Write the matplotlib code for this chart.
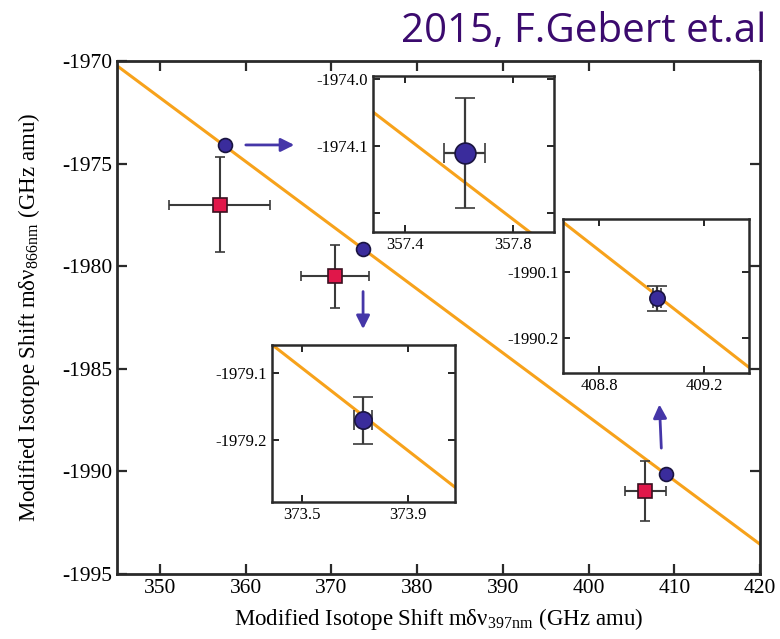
import numpy as np
import matplotlib
matplotlib.use("Agg")
import matplotlib.pyplot as plt

plt.rcParams['font.family'] = ['Liberation Serif', 'DejaVu Serif']
plt.rcParams['mathtext.fontset'] = 'stix'
plt.rcParams['axes.unicode_minus'] = False

# fit line (orange), given by its ends over the main x range
line_x = [345, 420]
line_y = [-1970.23, -1993.55]

# blue circles (this work)
circ_x = [357.62, 373.73, 409.02]
circ_y = [-1974.11, -1979.17, -1990.14]
circ_xerr = [0.076, 0.034, 0.015]
circ_yerr = [0.082, 0.035, 0.019]

# red squares
sq_x = [357.0, 370.43, 406.6]
sq_y = [-1977.0, -1980.5, -1990.95]
sq_xerr = [5.9, 4.0, 2.4]
sq_yerr = [2.3, 1.55, 1.45]

# inset ranges and ticks
inset_xlim = [(357.281, 357.951), (373.3875, 374.075), (408.664, 409.371)]
inset_ylim = [(-1974.229, -1973.995), (-1979.293, -1979.0575), (-1990.254, -1990.0206)]
inset_xticks = [[357.4, 357.8], [373.5, 373.9], [408.8, 409.2]]
inset_yticks = [[-1974.0, -1974.1, -1974.2], [-1979.1, -1979.2], [-1990.1, -1990.2]]
inset_yticklabels = [['-1974.0', '-1974.1', ''], ['-1979.1', '-1979.2'], ['-1990.1', '-1990.2']]
inset_rects = [[0.4778, 0.6365, 0.2328, 0.2446],
               [0.3483, 0.2139, 0.2350, 0.2462],
               [0.7222, 0.4158, 0.2381, 0.2410]]
inset_msize = [15, 12.5, 11]

orange = '#F7A21B'
blue = '#3A2C9C'
red = '#E0174A'
ecol = '#3a3a3a'
arrow_col = '#4536A8'

slope = (line_y[1] - line_y[0]) / (line_x[1] - line_x[0])


def fit(x):
    return line_y[0] + slope * (np.asarray(x) - line_x[0])


def style_ax(ax, lw=1.8, tl=6):
    for s in ax.spines.values():
        s.set_linewidth(lw)
        s.set_color('#2a2a2a')
    ax.tick_params(direction='in', top=True, right=True, length=tl, width=lw * 0.8,
                   color='#2a2a2a')


fig = plt.figure(figsize=(7.8, 6.39), dpi=100)
ax = fig.add_axes([0.150, 0.1017, 0.8244, 0.8028])

ax.plot(line_x, line_y, color=orange, lw=2.2, zorder=1)
ax.errorbar(sq_x, sq_y, xerr=sq_xerr, yerr=sq_yerr, fmt='s', ms=9.5, mfc=red, mec='#3a1020',
            mew=1.2, ecolor=ecol, elinewidth=1.5, capsize=3.5, capthick=1.5, zorder=3)
ax.errorbar(circ_x, circ_y, xerr=circ_xerr, yerr=circ_yerr, fmt='o', ms=10, mfc=blue,
            mec='#1a1440', mew=1.2, ecolor=ecol, elinewidth=1.5, capsize=3, zorder=4)

ax.set_xlim(345, 420)
ax.set_ylim(-1995, -1970)
ax.set_xticks(np.arange(350, 421, 10))
ax.set_yticks(np.arange(-1995, -1969, 5))
ax.tick_params(labelsize=15.5)
style_ax(ax, lw=2.0, tl=7)
ax.set_xlabel(r'Modified Isotope Shift mδν$_{\mathregular{397nm}}$ (GHz amu)',
              fontsize=16.5, labelpad=6)
ax.set_ylabel(r'Modified Isotope Shift mδν$_{\mathregular{866nm}}$ (GHz amu)',
              fontsize=16.5, labelpad=14)

# arrows pointing to insets
arr = dict(arrowstyle='-|>', color=arrow_col, lw=2, mutation_scale=20)
ax.annotate('', xy=(366.0, -1974.09), xytext=(359.7, -1974.09), arrowprops=arr)
ax.annotate('', xy=(373.7, -1983.2), xytext=(373.7, -1981.1), arrowprops=arr)
ax.annotate('', xy=(408.25, -1986.6), xytext=(408.5, -1989.0), arrowprops=arr)

for i in range(3):
    ia = fig.add_axes(inset_rects[i])
    lx0, lx1 = inset_xlim[i]
    ia.plot([lx0, lx1], fit([lx0, lx1]), color=orange, lw=2.2, zorder=1)
    ia.errorbar([circ_x[i]], [circ_y[i]], xerr=[circ_xerr[i]], yerr=[circ_yerr[i]], fmt='o',
                ms=inset_msize[i], mfc=blue, mec='#1a1440', mew=1.2, ecolor=ecol,
                elinewidth=1.6, capsize=7, capthick=1.6, zorder=3)
    ia.set_xlim(inset_xlim[i])
    ia.set_ylim(inset_ylim[i])
    ia.set_xticks(inset_xticks[i])
    ia.set_xticklabels([f'{v:.1f}' for v in inset_xticks[i]])
    ia.set_yticks(inset_yticks[i])
    ia.set_yticklabels(inset_yticklabels[i])
    ia.tick_params(labelsize=12)
    style_ax(ia, lw=1.8, tl=5)

fig.text(0.982, 0.935, '2015, F.Gebert et.al', ha='right', va='baseline', fontsize=29,
         color='#3B0A6E', family=['Open Sans', 'DejaVu Sans'])

fig.savefig('out.png', dpi=100)
